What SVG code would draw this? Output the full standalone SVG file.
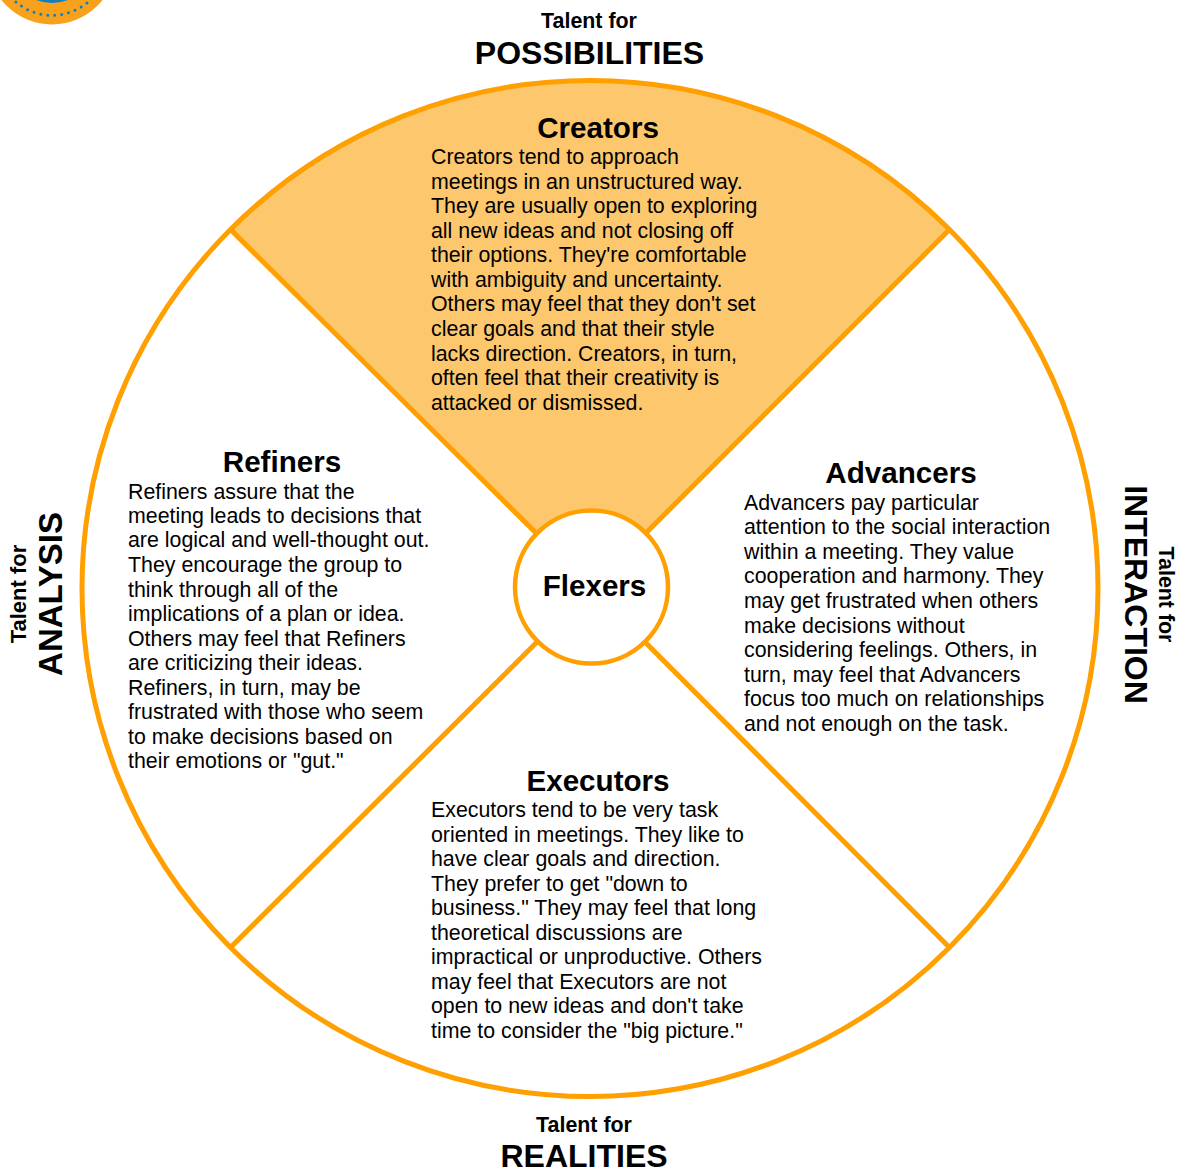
<svg xmlns="http://www.w3.org/2000/svg" width="1179" height="1172" viewBox="0 0 1179 1172">
<style>
text{font-family:"Liberation Sans",Arial,sans-serif;fill:#000}
.b{font-size:21.35px}
.h{font-size:29.6px;font-weight:bold;text-anchor:middle}
.t{font-size:21.4px;font-weight:bold;text-anchor:middle}
.T{font-size:32px;font-weight:bold;text-anchor:middle}
.l{fill:none;stroke:#ff9f00;stroke-width:5}
</style>
<rect width="1179" height="1172" fill="#fff"/>
<g id="logo"><circle cx="52" cy="-40" r="64.500" fill="#f8a11c"/><circle cx="52" cy="-40" r="55.300" fill="none" stroke="#0f7fc4" stroke-width="3" stroke-linecap="round" stroke-dasharray="0 7"/><circle cx="52" cy="-40" r="43" fill="#0f7fc4"/></g>
<g id="creators-sector"><path d="M231 230A508 508 0 0 1 949 230L645 534A76 76 0 0 0 537 534Z" fill="#fdc76e" stroke="none"/></g>
<g id="connectors">
<circle class="l" cx="590" cy="588.500" r="508"/>
<path class="l" d="M231 230L537 534M949 230L645 534M231 947L537 642M949 947L645 642"/>
</g>
<g id="flexers"><circle cx="591.500" cy="587" r="76.500" fill="#fff" stroke="#ff9f00" stroke-width="4.500"/><text class="h" x="594.500" y="596">Flexers</text></g>
<g id="creators"><text class="h" x="598" y="138">Creators</text>
<text class="b" x="431" y="164">Creators tend to approach</text>
<text class="b" x="431" y="189">meetings in an unstructured way.</text>
<text class="b" x="431" y="213">They are usually open to exploring</text>
<text class="b" x="431" y="238">all new ideas and not closing off</text>
<text class="b" x="431" y="262">their options. They're comfortable</text>
<text class="b" x="431" y="287">with ambiguity and uncertainty.</text>
<text class="b" x="431" y="311">Others may feel that they don't set</text>
<text class="b" x="431" y="336">clear goals and that their style</text>
<text class="b" x="431" y="361">lacks direction. Creators, in turn,</text>
<text class="b" x="431" y="385">often feel that their creativity is</text>
<text class="b" x="431" y="410">attacked or dismissed.</text></g>
<g id="refiners"><text class="h" x="282" y="472">Refiners</text>
<text class="b" x="128" y="499">Refiners assure that the</text>
<text class="b" x="128" y="523">meeting leads to decisions that</text>
<text class="b" x="128" y="547">are logical and well-thought out.</text>
<text class="b" x="128" y="572">They encourage the group to</text>
<text class="b" x="128" y="597">think through all of the</text>
<text class="b" x="128" y="621">implications of a plan or idea.</text>
<text class="b" x="128" y="646">Others may feel that Refiners</text>
<text class="b" x="128" y="670">are criticizing their ideas.</text>
<text class="b" x="128" y="695">Refiners, in turn, may be</text>
<text class="b" x="128" y="719">frustrated with those who seem</text>
<text class="b" x="128" y="744">to make decisions based on</text>
<text class="b" x="128" y="768">their emotions or "gut."</text></g>
<g id="advancers"><text class="h" x="901" y="483">Advancers</text>
<text class="b" x="744" y="510">Advancers pay particular</text>
<text class="b" x="744" y="534">attention to the social interaction</text>
<text class="b" x="744" y="559">within a meeting. They value</text>
<text class="b" x="744" y="583">cooperation and harmony. They</text>
<text class="b" x="744" y="608">may get frustrated when others</text>
<text class="b" x="744" y="633">make decisions without</text>
<text class="b" x="744" y="657">considering feelings. Others, in</text>
<text class="b" x="744" y="682">turn, may feel that Advancers</text>
<text class="b" x="744" y="706">focus too much on relationships</text>
<text class="b" x="744" y="731">and not enough on the task.</text></g>
<g id="executors"><text class="h" x="598" y="791">Executors</text>
<text class="b" x="431" y="817">Executors tend to be very task</text>
<text class="b" x="431" y="842">oriented in meetings. They like to</text>
<text class="b" x="431" y="866">have clear goals and direction.</text>
<text class="b" x="431" y="891">They prefer to get "down to</text>
<text class="b" x="431" y="915">business." They may feel that long</text>
<text class="b" x="431" y="940">theoretical discussions are</text>
<text class="b" x="431" y="964">impractical or unproductive. Others</text>
<text class="b" x="431" y="989">may feel that Executors are not</text>
<text class="b" x="431" y="1013">open to new ideas and don't take</text>
<text class="b" x="431" y="1038">time to consider the "big picture."</text></g>
<g id="talent-top"><text class="t" x="589" y="28">Talent for</text><text class="T" x="589.500" y="64">POSSIBILITIES</text></g>
<g id="talent-bottom"><text class="t" x="584" y="1132">Talent for</text><text class="T" x="584" y="1167">REALITIES</text></g>
<g id="talent-left" transform="translate(26 594) rotate(-90)"><text class="t" x="0" y="0" style="font-size:22px">Talent for</text><text class="T" x="0" y="36" style="font-size:33px">ANALYSIS</text></g>
<g id="talent-right" transform="translate(1159 594.500) rotate(90)"><text class="t" x="0" y="0">Talent for</text><text class="T" x="0" y="34">INTERACTION</text></g>
</svg>
